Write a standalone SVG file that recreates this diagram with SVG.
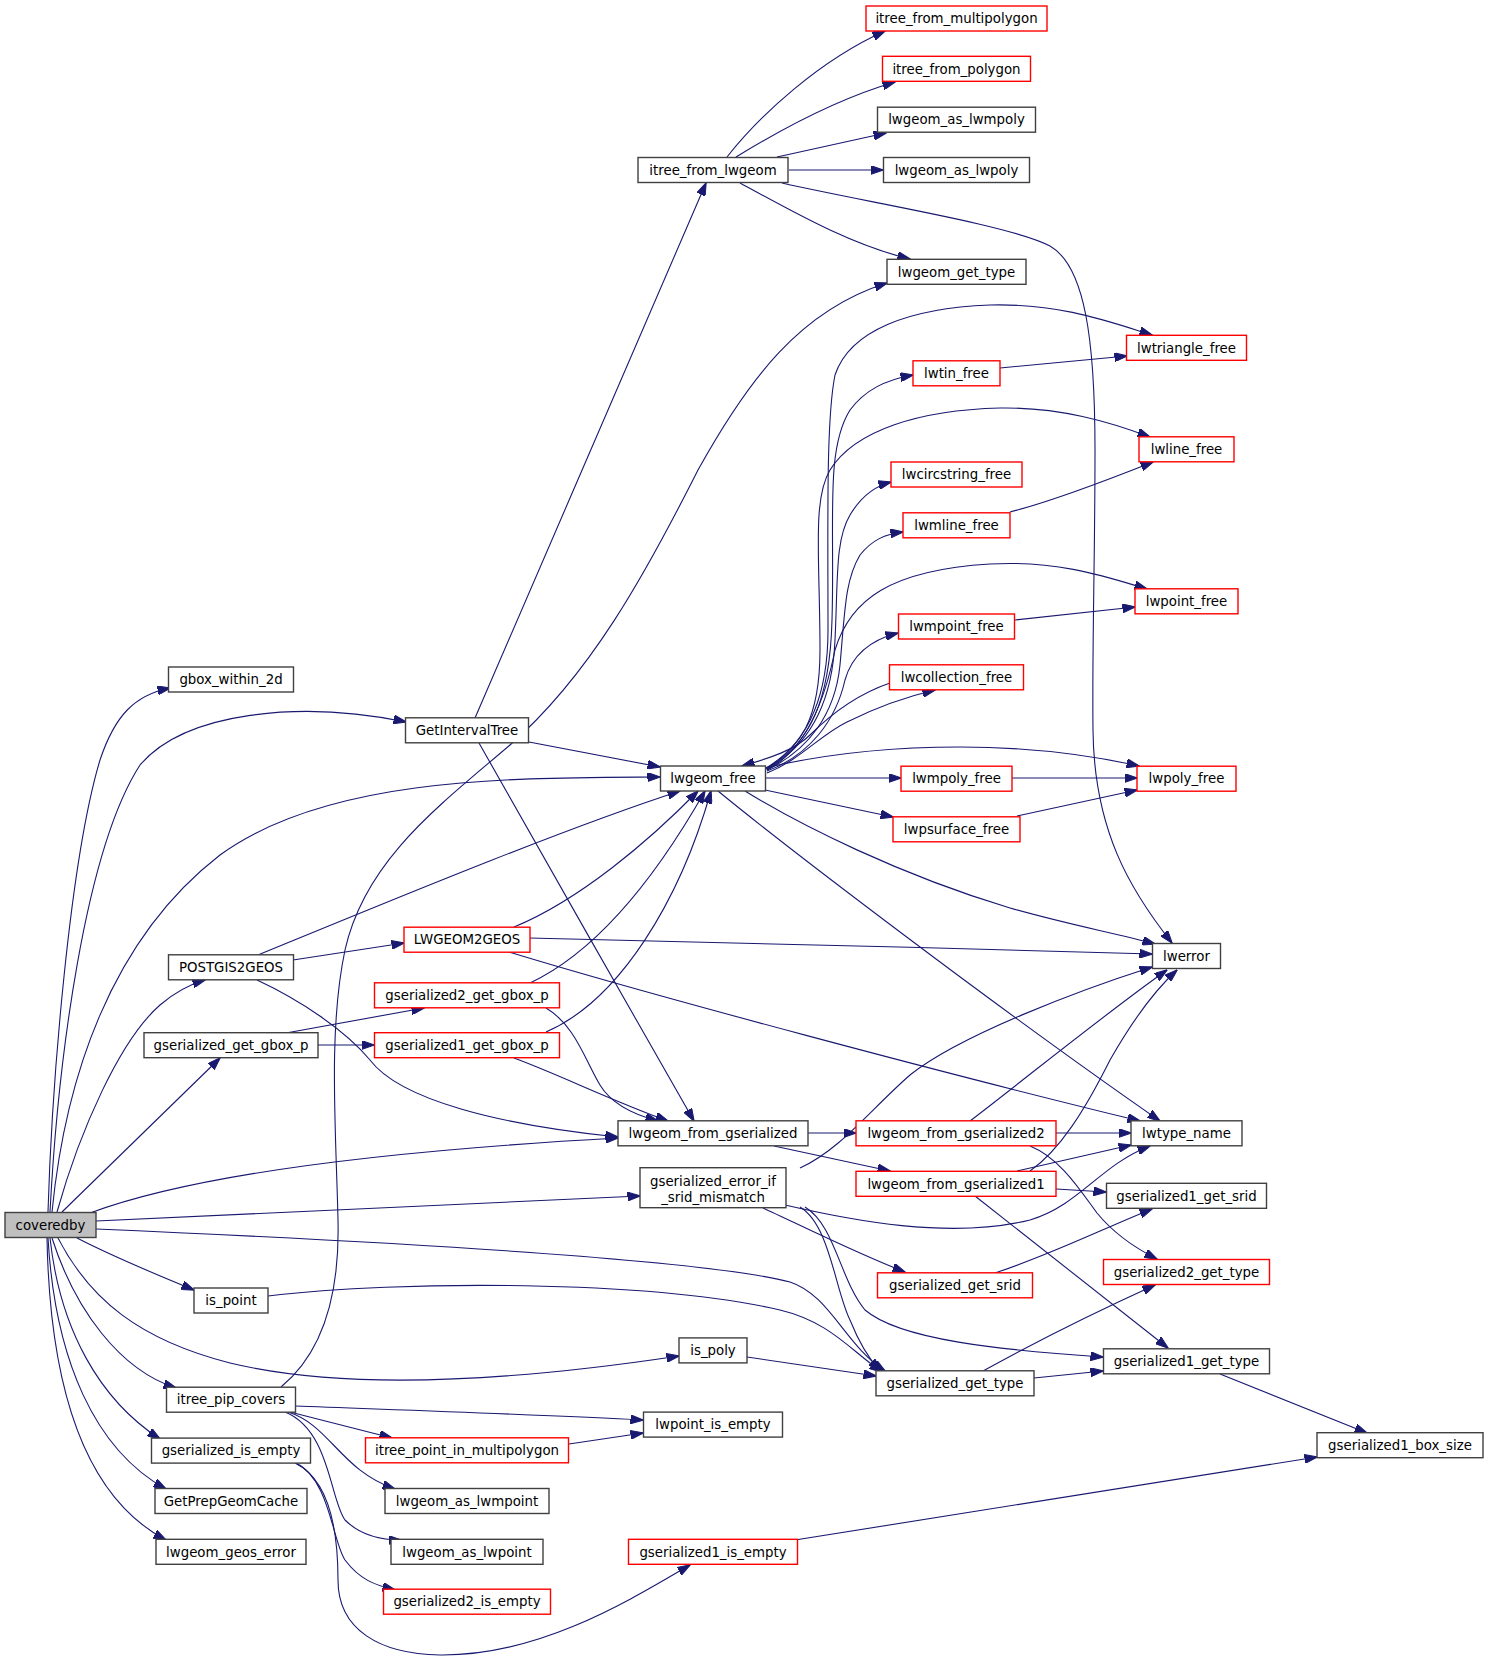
<svg xmlns="http://www.w3.org/2000/svg" width="1488" height="1664" viewBox="0 0 1488 1664">
<defs>
<marker id="a" markerWidth="13" markerHeight="9" refX="12.5" refY="4.5" orient="auto" markerUnits="userSpaceOnUse"><path d="M0,0L13,4.5L0,9z" fill="#191970" stroke="#191970" stroke-width="1"/></marker>
<style>
.n rect{fill:#fff;stroke:#404040;stroke-width:1.4}
.r rect{fill:#fff;stroke:#ff0000;stroke-width:1.4}
.g rect{fill:#bfbfbf;stroke:#404040;stroke-width:1.4}
text{font-family:"DejaVu Sans",Verdana,sans-serif;font-size:13.33px;text-anchor:middle;fill:#000}
.e path{fill:none;stroke:#191970;stroke-width:1.1;marker-end:url(#a)}
</style>
</defs>
<rect width="1488" height="1664" fill="#fff"/>
<g id="edges" class="e">
<path d="M48,1212 C52,1080 70,860 100,760 C115,715 135,695 170,688"/>
<path d="M50,1212 C58,1060 85,850 140,765 C185,712 300,700 406,722"/>
<path d="M52,1212 C65,1080 110,940 220,855 C330,775 520,778 660,777"/>
<path d="M57,1212 C80,1130 120,1040 160,1005 C175,992 188,985 205,980"/>
<path d="M62,1212 L220,1058"/>
<path d="M90,1213 C200,1172 400,1150 618,1138"/>
<path d="M96,1221 C300,1212 480,1203 640,1196"/>
<path d="M96,1229 C350,1240 700,1258 790,1282 C830,1295 845,1345 885,1371"/>
<path d="M77,1238 C110,1255 150,1272 194,1290"/>
<path d="M58,1238 C90,1300 140,1340 230,1363 C350,1392 520,1380 679,1356"/>
<path d="M52,1238 C75,1310 120,1370 176,1388"/>
<path d="M50,1238 C60,1330 100,1400 160,1439"/>
<path d="M48,1238 C55,1360 95,1450 166,1489"/>
<path d="M47,1238 C50,1400 90,1500 166,1540"/>
<path d="M475,718 C550,545 640,335 706,183"/>
<path d="M529,742 L660,767"/>
<path d="M479,743 C540,850 630,1010 694,1121"/>
<path d="M727,157 C760,115 820,60 885,31"/>
<path d="M736,157 C780,130 840,98 895,82"/>
<path d="M777,157 L886,133"/>
<path d="M789,170 L883,170"/>
<path d="M740,183 C790,210 850,245 910,259"/>
<path d="M782,183 C870,203 1010,225 1050,246 C1085,266 1095,340 1095,450 C1095,560 1092,650 1093,730 C1094,830 1130,890 1172,943"/>
<path d="M281,1387 C320,1355 340,1300 338,1220 C336,1130 328,1030 345,950 C365,860 440,805 510,745 C590,675 645,575 698,470 C748,380 800,310 887,283"/>
<path d="M295,1406 C400,1410 550,1415 643,1420"/>
<path d="M290,1412 L392,1438"/>
<path d="M288,1412 C330,1425 340,1470 395,1489"/>
<path d="M285,1412 C330,1430 330,1500 345,1520 C360,1535 380,1540 401,1540"/>
<path d="M296,1463 C330,1480 332,1540 345,1560 C360,1580 375,1585 395,1590"/>
<path d="M295,1463 C330,1480 338,1530 338,1580 C338,1630 380,1654 440,1655 C540,1656 630,1600 690,1565"/>
<path d="M569,1444 L643,1433"/>
<path d="M258,955 C380,905 560,830 680,791"/>
<path d="M293,960 L404,943"/>
<path d="M257,980 C300,1000 345,1030 370,1060 C400,1100 500,1125 618,1137"/>
<path d="M286,1033 L424,1008"/>
<path d="M318,1045 L374,1045"/>
<path d="M514,927 C580,900 650,840 698,791"/>
<path d="M529,938 C700,942 950,948 1152,954"/>
<path d="M509,952 C650,995 950,1075 1140,1121"/>
<path d="M530,983 C600,950 660,870 705,791"/>
<path d="M546,1008 C575,1025 585,1060 600,1085 C612,1105 635,1115 658,1121"/>
<path d="M546,1032 C620,1000 680,900 711,791"/>
<path d="M514,1058 C560,1075 610,1100 668,1121"/>
<path d="M766,768 C805,745 828,700 828,630 C828,520 826,420 835,375 C850,330 910,308 990,305 C1060,303 1110,322 1152,335"/>
<path d="M767,768 C810,745 830,700 832,620 C835,520 825,450 850,410 C865,390 885,380 913,375"/>
<path d="M766,769 C800,748 820,720 820,650 C820,560 812,500 830,470 C855,430 920,410 1000,408 C1060,407 1110,422 1150,437"/>
<path d="M767,769 C805,748 832,710 835,640 C838,580 835,540 850,515 C862,495 875,486 891,482"/>
<path d="M767,770 C808,750 835,715 840,665 C845,610 845,580 860,555 C872,540 885,534 903,532"/>
<path d="M767,770 C805,750 825,700 835,650 C850,600 890,570 990,564 C1060,560 1110,578 1147,589"/>
<path d="M767,771 C810,755 836,720 845,680 C852,655 870,640 898,633"/>
<path d="M767,773 C800,760 820,735 847,722 C875,708 905,697 935,690"/>
<path d="M890,683 C855,695 830,715 810,735 C795,750 770,758 742,766"/>
<path d="M765,768 C820,755 880,747 960,747 C1030,747 1090,755 1139,766"/>
<path d="M765,778 L901,778"/>
<path d="M765,790 L893,817"/>
<path d="M745,791 C800,825 900,875 1010,908 C1070,925 1110,932 1155,944"/>
<path d="M718,791 C790,850 1000,1010 1160,1121"/>
<path d="M1000,368 L1127,356"/>
<path d="M1010,512 C1050,502 1100,483 1153,462"/>
<path d="M1015,620 L1135,607"/>
<path d="M1012,778 L1137,778"/>
<path d="M1017,816 L1137,790"/>
<path d="M808,1133 L856,1133"/>
<path d="M774,1146 L890,1171"/>
<path d="M1056,1133 L1131,1133"/>
<path d="M970,1121 C1030,1075 1110,1010 1167,970"/>
<path d="M1030,1146 C1060,1158 1080,1190 1097,1213 C1115,1235 1135,1248 1157,1259"/>
<path d="M1017,1171 L1131,1145"/>
<path d="M1030,1171 C1060,1150 1085,1110 1110,1060 C1130,1025 1155,990 1177,970"/>
<path d="M1056,1189 L1106,1192"/>
<path d="M975,1196 L1168,1348"/>
<path d="M800,1168 C840,1150 870,1110 910,1075 C960,1035 1080,990 1152,967"/>
<path d="M785,1205 C850,1220 950,1240 1030,1220 C1080,1205 1100,1165 1150,1146"/>
<path d="M763,1208 C800,1225 860,1255 905,1272"/>
<path d="M800,1207 C830,1225 835,1290 850,1320 C860,1345 870,1360 880,1371"/>
<path d="M805,1207 C835,1225 840,1280 865,1310 C900,1340 1000,1350 1103,1357"/>
<path d="M268,1296 C400,1280 650,1280 780,1310 C830,1322 850,1350 882,1372"/>
<path d="M747,1357 L876,1376"/>
<path d="M1034,1378 L1103,1371"/>
<path d="M983,1371 C1030,1345 1100,1310 1155,1285"/>
<path d="M995,1273 C1050,1255 1100,1230 1152,1209"/>
<path d="M1220,1374 L1367,1433"/>
<path d="M795,1540 L1317,1457"/>
</g>
<g id="coveredby" class="g"><rect x="5" y="1212.5" width="91" height="25"/><text x="50.5" y="1229.7">coveredby</text></g>
<g id="gbox_within_2d" class="n"><rect x="168.5" y="667" width="125" height="25"/><text x="231" y="684.2">gbox_within_2d</text></g>
<g id="GetIntervalTree" class="n"><rect x="405.5" y="717.8" width="123" height="25"/><text x="467" y="735">GetIntervalTree</text></g>
<g id="POSTGIS2GEOS" class="n"><rect x="168.5" y="954.8" width="125" height="25"/><text x="231" y="972">POSTGIS2GEOS</text></g>
<g id="gserialized_get_gbox_p" class="n"><rect x="144" y="1032.7" width="174" height="25"/><text x="231" y="1049.9">gserialized_get_gbox_p</text></g>
<g id="is_point" class="n"><rect x="194" y="1288" width="74" height="25"/><text x="231" y="1305.2">is_point</text></g>
<g id="itree_pip_covers" class="n"><rect x="166.5" y="1387.2" width="129" height="25"/><text x="231" y="1404.4">itree_pip_covers</text></g>
<g id="gserialized_is_empty" class="n"><rect x="151.5" y="1438.1" width="159" height="25"/><text x="231" y="1455.3">gserialized_is_empty</text></g>
<g id="GetPrepGeomCache" class="n"><rect x="155" y="1488.5" width="152" height="25"/><text x="231" y="1505.7">GetPrepGeomCache</text></g>
<g id="lwgeom_geos_error" class="n"><rect x="156" y="1539.3" width="150" height="25"/><text x="231" y="1556.5">lwgeom_geos_error</text></g>
<g id="LWGEOM2GEOS" class="r"><rect x="404" y="927.2" width="126" height="25"/><text x="467" y="944.4">LWGEOM2GEOS</text></g>
<g id="gserialized2_get_gbox_p" class="r"><rect x="374.5" y="982.8" width="185" height="25"/><text x="467" y="1000">gserialized2_get_gbox_p</text></g>
<g id="gserialized1_get_gbox_p" class="r"><rect x="374.5" y="1032.7" width="185" height="25"/><text x="467" y="1049.9">gserialized1_get_gbox_p</text></g>
<g id="itree_point_in_multipolygon" class="r"><rect x="365.5" y="1437.8" width="203" height="25"/><text x="467" y="1455">itree_point_in_multipolygon</text></g>
<g id="lwgeom_as_lwmpoint" class="n"><rect x="385" y="1488.5" width="164" height="25"/><text x="467" y="1505.7">lwgeom_as_lwmpoint</text></g>
<g id="lwgeom_as_lwpoint" class="n"><rect x="391" y="1539.3" width="152" height="25"/><text x="467" y="1556.5">lwgeom_as_lwpoint</text></g>
<g id="gserialized2_is_empty" class="r"><rect x="383.5" y="1589.2" width="167" height="25"/><text x="467" y="1606.4">gserialized2_is_empty</text></g>
<g id="itree_from_lwgeom" class="n"><rect x="638" y="157.5" width="150" height="25"/><text x="713" y="174.7">itree_from_lwgeom</text></g>
<g id="lwgeom_free" class="n"><rect x="660.5" y="766" width="105" height="25"/><text x="713" y="783.2">lwgeom_free</text></g>
<g id="lwgeom_from_gserialized" class="n"><rect x="618" y="1120.8" width="190" height="25"/><text x="713" y="1138">lwgeom_from_gserialized</text></g>
<g id="gserialized_error_if_srid_mismatch" class="n"><rect x="640" y="1167.7" width="146" height="40"/><text x="713" y="1186">gserialized_error_if</text><text x="713" y="1202">_srid_mismatch</text></g>
<g id="is_poly" class="n"><rect x="679" y="1337.9" width="68" height="25"/><text x="713" y="1355.1">is_poly</text></g>
<g id="lwpoint_is_empty" class="n"><rect x="643.5" y="1412.1" width="139" height="25"/><text x="713" y="1429.3">lwpoint_is_empty</text></g>
<g id="gserialized1_is_empty" class="r"><rect x="628.5" y="1539.3" width="169" height="25"/><text x="713" y="1556.5">gserialized1_is_empty</text></g>
<g id="itree_from_multipolygon" class="r"><rect x="866" y="6" width="181" height="25"/><text x="956.5" y="23.2">itree_from_multipolygon</text></g>
<g id="itree_from_polygon" class="r"><rect x="882.5" y="56.3" width="148" height="25"/><text x="956.5" y="73.5">itree_from_polygon</text></g>
<g id="lwgeom_as_lwmpoly" class="n"><rect x="877.5" y="107.2" width="158" height="25"/><text x="956.5" y="124.4">lwgeom_as_lwmpoly</text></g>
<g id="lwgeom_as_lwpoly" class="n"><rect x="883.5" y="157.5" width="146" height="25"/><text x="956.5" y="174.7">lwgeom_as_lwpoly</text></g>
<g id="lwgeom_get_type" class="n"><rect x="887" y="259.3" width="139" height="25"/><text x="956.5" y="276.5">lwgeom_get_type</text></g>
<g id="lwtin_free" class="r"><rect x="913" y="360.8" width="87" height="25"/><text x="956.5" y="378">lwtin_free</text></g>
<g id="lwcircstring_free" class="r"><rect x="891" y="462" width="131" height="25"/><text x="956.5" y="479.2">lwcircstring_free</text></g>
<g id="lwmline_free" class="r"><rect x="903" y="512.8" width="107" height="25"/><text x="956.5" y="530">lwmline_free</text></g>
<g id="lwmpoint_free" class="r"><rect x="898.5" y="614" width="116" height="25"/><text x="956.5" y="631.2">lwmpoint_free</text></g>
<g id="lwcollection_free" class="r"><rect x="889.5" y="664.8" width="134" height="25"/><text x="956.5" y="682">lwcollection_free</text></g>
<g id="lwmpoly_free" class="r"><rect x="901" y="766.2" width="111" height="25"/><text x="956.5" y="783.4">lwmpoly_free</text></g>
<g id="lwpsurface_free" class="r"><rect x="893" y="816.8" width="127" height="25"/><text x="956.5" y="834">lwpsurface_free</text></g>
<g id="lwgeom_from_gserialized2" class="r"><rect x="856" y="1120.8" width="200" height="25"/><text x="956" y="1138">lwgeom_from_gserialized2</text></g>
<g id="lwgeom_from_gserialized1" class="r"><rect x="856" y="1171.3" width="200" height="25"/><text x="956" y="1188.5">lwgeom_from_gserialized1</text></g>
<g id="gserialized_get_srid" class="r"><rect x="877.5" y="1272.8" width="155" height="25"/><text x="955" y="1290">gserialized_get_srid</text></g>
<g id="gserialized_get_type" class="n"><rect x="876" y="1370.8" width="158" height="25"/><text x="955" y="1388">gserialized_get_type</text></g>
<g id="lwtriangle_free" class="r"><rect x="1126.5" y="335.3" width="120" height="25"/><text x="1186.5" y="352.5">lwtriangle_free</text></g>
<g id="lwline_free" class="r"><rect x="1139" y="436.8" width="95" height="25"/><text x="1186.5" y="454">lwline_free</text></g>
<g id="lwpoint_free" class="r"><rect x="1135" y="588.8" width="103" height="25"/><text x="1186.5" y="606">lwpoint_free</text></g>
<g id="lwpoly_free" class="r"><rect x="1137" y="766.2" width="99" height="25"/><text x="1186.5" y="783.4">lwpoly_free</text></g>
<g id="lwerror" class="n"><rect x="1152.5" y="943.5" width="68" height="25"/><text x="1186.5" y="960.7">lwerror</text></g>
<g id="lwtype_name" class="n"><rect x="1131" y="1120.8" width="111" height="25"/><text x="1186.5" y="1138">lwtype_name</text></g>
<g id="gserialized1_get_srid" class="n"><rect x="1106.5" y="1183.3" width="160" height="25"/><text x="1186.5" y="1200.5">gserialized1_get_srid</text></g>
<g id="gserialized2_get_type" class="r"><rect x="1103.5" y="1259.5" width="166" height="25"/><text x="1186.5" y="1276.7">gserialized2_get_type</text></g>
<g id="gserialized1_get_type" class="n"><rect x="1103.5" y="1348.8" width="166" height="25"/><text x="1186.5" y="1366">gserialized1_get_type</text></g>
<g id="gserialized1_box_size" class="n"><rect x="1317" y="1432.7" width="166" height="25"/><text x="1400" y="1449.9">gserialized1_box_size</text></g>
</svg>
